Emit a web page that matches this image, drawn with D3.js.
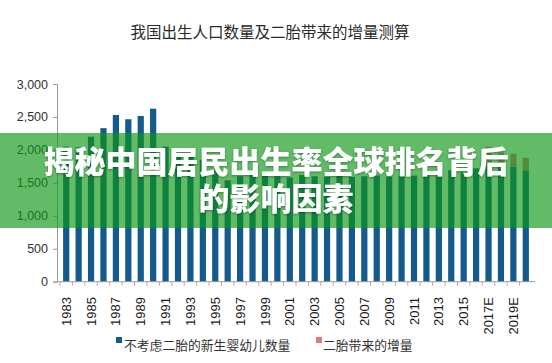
<!DOCTYPE html>
<html>
<head>
<meta charset="utf-8">
<script src="https://cdn.jsdelivr.net/npm/d3@7"></script>
<style>
  html, body { margin: 0; padding: 0; background: #fff; }
  svg { display: block; }
</style>
</head>
<body>
<svg id="chart" width="552" height="363"></svg>
<script>
const years = ["1983","1984","1985","1986","1987","1988","1989","1990","1991","1992","1993","1994","1995","1996","1997","1998","1999","2000","2001","2002","2003","2004","2005","2006","2007","2008","2009","2010","2011","2012","2013","2014","2015","2016","2017E","2018E","2019E","2020E"];
const baseBirths = [2050,2040,2200,2330,2530,2465,2515,2625,2050,1950,1900,1850,1700,1540,1600,1650,1620,1600,1580,1620,1600,1590,1620,1590,1600,1610,1590,1600,1610,1640,1645,1690,1660,1720,1760,1740,1740,1690];
const secondChildIncrement = [0,0,0,0,0,0,0,0,0,0,0,0,0,0,0,0,0,0,0,0,0,0,0,0,0,0,0,0,0,0,0,0,0,0,290,220,200,190];
const yTicks = [0,500,1000,1500,2000,2500,3000];
const xTickLabels = ["1983","1985","1987","1989","1991","1993","1995","1997","1999","2001","2003","2005","2007","2009","2011","2013","2015","2017E","2019E"];
const seriesNames = ["不考虑二胎的新生婴幼儿数量","二胎带来的增量"];
const titleText = "我国出生人口数量及二胎带来的增量测算";
const bannerLines = ["揭秘中国居民出生率全球排名背后","的影响因素"];

const colors = { base: "#155a8c", inc: "#e07a7c" };
const svg = d3.select("#chart");
const W = 552, H = 363;

const x = d3.scaleBand().domain(years).range([60, 532]).paddingInner(0.5).paddingOuter(0.25);
const y = d3.scaleLinear().domain([0, 3000]).range([281.7, 84]);

// title
svg.append("text")
  .attr("x", 270).attr("y", 38)
  .attr("text-anchor", "middle")
  .attr("font-family", "'Noto Sans CJK SC', sans-serif")
  .attr("font-size", 15.5)
  .attr("fill", "#2a2a2a")
  .text(titleText);

// bars
const data = years.map((yr, i) => ({ yr, base: baseBirths[i], inc: secondChildIncrement[i] }));
svg.append("g").selectAll("rect.base").data(data).join("rect")
  .attr("class", "base")
  .attr("x", d => x(d.yr)).attr("width", x.bandwidth())
  .attr("y", d => y(d.base)).attr("height", d => y(0) - y(d.base))
  .attr("fill", colors.base);
svg.append("g").selectAll("rect.inc").data(data.filter(d => d.inc > 0)).join("rect")
  .attr("class", "inc")
  .attr("x", d => x(d.yr)).attr("width", x.bandwidth())
  .attr("y", d => y(d.base + d.inc)).attr("height", d => y(d.base) - y(d.base + d.inc))
  .attr("fill", colors.inc);

// y axis
const yAxis = d3.axisLeft(y).tickValues(yTicks).tickSize(4).tickFormat(d3.format(","));
const gy = svg.append("g").attr("transform", "translate(57,0)").call(yAxis);
gy.select(".domain").attr("stroke", "#9a9a9a");
gy.selectAll(".tick line").attr("stroke", "#9a9a9a");
gy.selectAll(".tick text")
  .attr("font-family", "'Liberation Sans', Arial, sans-serif")
  .attr("font-size", 12.5).attr("fill", "#333").attr("x", -9);

// x axis baseline + small ticks
const step = x.step();
svg.append("line").attr("x1", 57).attr("x2", x(years[years.length-1]) + x.bandwidth() + step*0.5)
  .attr("y1", y(0)).attr("y2", y(0)).attr("stroke", "#9a9a9a");
svg.append("g").selectAll("line").data(years).join("line")
  .attr("x1", d => x(d) - step*0.25).attr("x2", d => x(d) - step*0.25)
  .attr("y1", y(0)).attr("y2", y(0) + 4)
  .attr("stroke", "#c9a0a0");

// x labels
svg.append("g").selectAll("text").data(xTickLabels).join("text")
  .attr("transform", d => `translate(${x(d) + x.bandwidth()/2},297) rotate(-90)`)
  .attr("text-anchor", "end")
  .attr("dy", "0.35em")
  .attr("font-family", "'Liberation Sans', Arial, sans-serif")
  .attr("font-size", 13).attr("fill", "#1a1a1a")
  .text(d => d);

// legend
const legend = svg.append("g");
const legendItems = [
  { name: seriesNames[0], color: colors.base, sx: 116, tx: 124 },
  { name: seriesNames[1], color: colors.inc, sx: 316, tx: 323 }
];
legendItems.forEach(it => {
  legend.append("rect").attr("x", it.sx).attr("y", 337).attr("width", 6).attr("height", 6).attr("fill", it.color);
  legend.append("text").attr("x", it.tx).attr("y", 350)
    .attr("font-family", "'Noto Sans CJK SC', sans-serif")
    .attr("font-size", 12.8).attr("fill", "#333")
    .text(it.name);
});

// green banner overlay
svg.append("rect").attr("x", 0).attr("y", 133).attr("width", W).attr("height", 95)
  .attr("fill", "rgb(12,150,22)").attr("fill-opacity", 0.65);
const defs = svg.append("defs");
const f = defs.append("filter").attr("id", "sh").attr("x", "-10%").attr("y", "-10%").attr("width", "120%").attr("height", "130%");
f.append("feDropShadow").attr("dx", 0).attr("dy", 1).attr("stdDeviation", 1).attr("flood-color", "#000").attr("flood-opacity", 0.35);
svg.append("g").attr("filter", "url(#sh)").selectAll("text").data(bannerLines).join("text")
  .attr("x", 276).attr("y", (d, i) => 173 + i * 37)
  .attr("text-anchor", "middle")
  .attr("font-family", "'Noto Sans CJK SC', sans-serif")
  .attr("font-weight", 900)
  .attr("font-size", 31)
  .attr("fill", "#fff")
  .text(d => d);
</script>
</body>
</html>
